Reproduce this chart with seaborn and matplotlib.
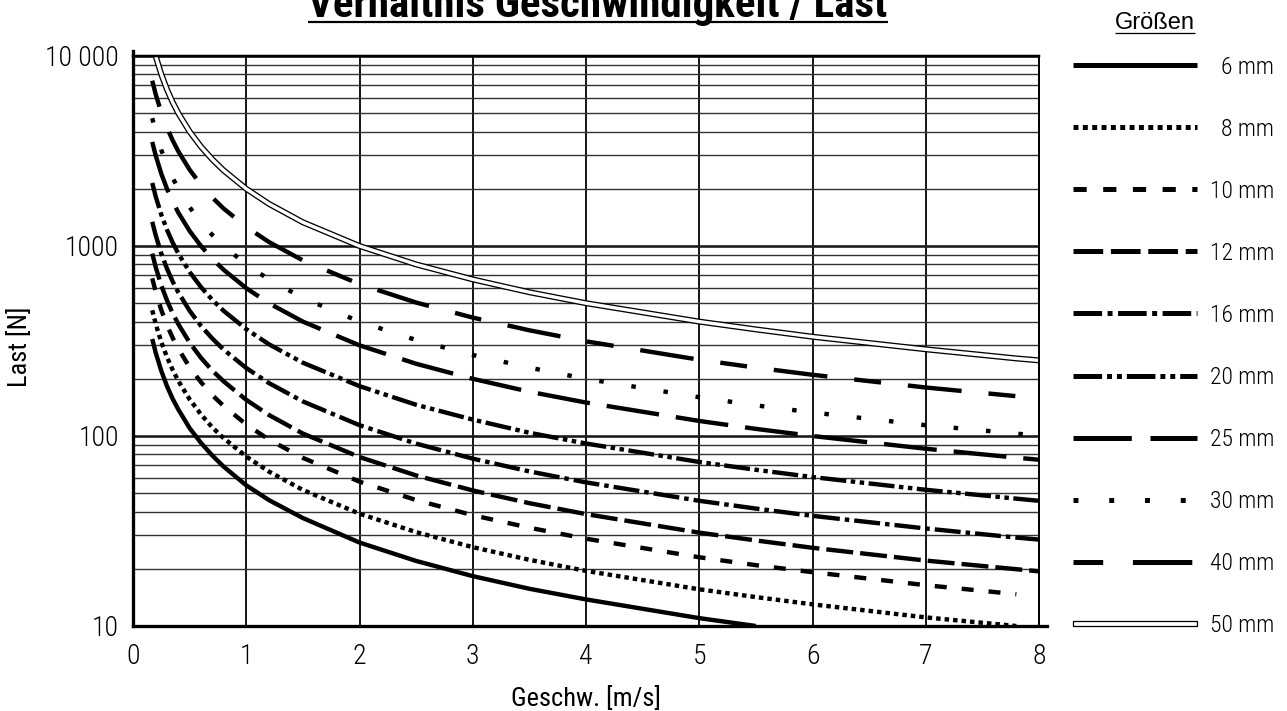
import pandas as pd
import seaborn as sns
import matplotlib
matplotlib.use('Agg')
import matplotlib.pyplot as plt
from matplotlib import font_manager
from matplotlib.patches import Rectangle
from matplotlib.ticker import LogLocator, NullFormatter

speed = [0.17, 0.2, 0.25, 0.3, 0.35, 0.4, 0.5, 0.6, 0.7, 0.8, 1.0, 1.2, 1.5,
         2.0, 2.5, 3.0, 3.5, 4.0, 5.0, 5.5, 6.0, 7.0, 7.8, 8.0]

sizes = ['6 mm', '8 mm', '10 mm', '12 mm', '16 mm', '20 mm', '25 mm', '30 mm', '40 mm', '50 mm']

# load [N] for each size along speed (None = curve not drawn there)
load_6mm = [324, 275, 220, 183, 157, 138, 110, 92, 79, 69, 55, 46, 37, 27.5, 22, 18.3, 15.7, 13.8, 11, 10,
            None, None, None, None]
load_8mm = [459, 390, 312, 260, 223, 195, 156, 130, 111, 97.5, 78, 65, 52, 39, 31.2, 26, 22.3, 19.5, 15.6, 14.2,
            13, 11.1, 10, None]
load_10mm = [676, 575, 460, 383, 329, 288, 230, 192, 164, 144, 115, 95.8, 76.7, 57.5, 46, 38.3, 32.9, 28.8, 23, 20.9,
             19.2, 16.4, 14.7, None]
load_12mm = [912, 775, 620, 517, 443, 388, 310, 258, 221, 194, 155, 129, 103, 77.5, 62, 51.7, 44.3, 38.8, 31, 28.2,
             25.8, 22.1, 19.9, 19.4]
load_16mm = [1341, 1140, 912, 760, 651, 570, 456, 380, 326, 285, 228, 190, 152, 114, 91.2, 76, 65.1, 57, 45.6, 41.5,
             38, 32.6, 29.2, 28.5]
load_20mm = [2147, 1825, 1460, 1217, 1043, 913, 730, 608, 521, 456, 365, 304, 243, 183, 146, 122, 104, 91.3, 73, 66.4,
             60.8, 52.1, 46.8, 45.6]
load_25mm = [3529, 3000, 2400, 2000, 1714, 1500, 1200, 1000, 857, 750, 600, 500, 400, 300, 240, 200, 171, 150, 120, 109,
             100, 85.7, 76.9, 75]
load_30mm = [4706, 4000, 3200, 2667, 2286, 2000, 1600, 1333, 1143, 1000, 800, 667, 533, 400, 320, 267, 229, 200, 160, 145,
             133, 114, 103, 100]
load_40mm = [7412, 6300, 5040, 4200, 3600, 3150, 2520, 2100, 1800, 1575, 1260, 1050, 840, 630, 504, 420, 360, 315, 252, 229,
             210, 180, 162, 158]
load_50mm = [None, 10000, 8000, 6667, 5714, 5000, 4000, 3333, 2857, 2500, 2000, 1667, 1333, 1000, 800, 667, 571, 500, 400, 364,
             333, 286, 256, 250]

y_ticks = [10, 100, 1000, 10000]
y_ticklabels = ['10', '100', '1000', '10 000']
x_ticks = [0, 1, 2, 3, 4, 5, 6, 7, 8]

loads = [load_6mm, load_8mm, load_10mm, load_12mm, load_16mm,
         load_20mm, load_25mm, load_30mm, load_40mm, load_50mm]

rows = []
for size, vals in zip(sizes, loads):
    for v, l in zip(speed, vals):
        if l is not None:
            rows.append({'Geschw': v, 'Last': l, 'Groesse': size})
df = pd.DataFrame(rows)

P = 0.72  # px -> pt at dpi 100

# dash patterns in px (None = solid)
dash_px = {
    '6 mm': None,
    '8 mm': (4.5, 4.0),
    '10 mm': (12, 15),
    '12 mm': (27, 7),
    '16 mm': (26, 5, 4.5, 5),
    '20 mm': (26, 4.5, 4.5, 4.5, 4.5, 4.5),
    '25 mm': (53, 17),
    '30 mm': (4.5, 28),
    '40 mm': (27, 27, 54, 27),
    '50 mm': None,
}

sns.set_style('white', {'axes.edgecolor': 'black', 'text.color': 'black',
                        'xtick.color': 'black', 'ytick.color': 'black',
                        'axes.labelcolor': 'black'})
installed = {f.name for f in font_manager.fontManager.ttflist}
narrow = next((n for n in ['Roboto Condensed', 'Liberation Sans Narrow', 'Open Sans Condensed']
               if n in installed), 'DejaVu Sans')
plt.rcParams['font.family'] = [narrow, 'DejaVu Sans']
plt.rcParams['font.stretch'] = 'condensed'
plt.rcParams['font.weight'] = 'light'
plt.rcParams['lines.scale_dashes'] = False

fig = plt.figure(figsize=(12.87, 7.11), dpi=100)
ax = fig.add_axes([133 / 1287, 85 / 711, 906 / 1287, 570 / 711])
ax.set_yscale('log')

for size in sizes:
    sub = df[df['Groesse'] == size]
    if size == '50 mm':
        # double line: thick black with white core
        sns.lineplot(data=sub, x='Geschw', y='Last', color='black', lw=6 * P,
                     estimator=None, errorbar=None, ax=ax, solid_capstyle='butt')
        sns.lineplot(data=sub, x='Geschw', y='Last', color='white', lw=3.4 * P,
                     estimator=None, errorbar=None, ax=ax, solid_capstyle='butt')
    elif dash_px[size] is None:
        sns.lineplot(data=sub, x='Geschw', y='Last', color='black', lw=4.4 * P,
                     estimator=None, errorbar=None, ax=ax, solid_capstyle='butt')
    else:
        ls = (0, tuple(d * P for d in dash_px[size]))
        sns.lineplot(data=sub, x='Geschw', y='Last', color='black', lw=4.4 * P,
                     linestyle=ls, estimator=None, errorbar=None, ax=ax,
                     dash_capstyle='butt')

ax.set_xlim(0, 8)
ax.set_ylim(10, 10000)
ax.set_xticks(x_ticks)
ax.set_yticks(y_ticks)
ax.set_yticklabels(y_ticklabels)
ax.yaxis.set_minor_locator(LogLocator(base=10, subs=range(2, 10), numticks=20))
ax.yaxis.set_minor_formatter(NullFormatter())
ax.tick_params(which='both', length=0)
ax.tick_params(axis='x', pad=12, labelsize=20)
ax.tick_params(axis='y', pad=10, labelsize=20)

ax.grid(True, which='major', axis='x', color='#1a1a1a', lw=2 * P)
ax.grid(True, which='major', axis='y', color='#1a1a1a', lw=2.6 * P)
ax.grid(True, which='minor', axis='y', color='#333333', lw=1.4 * P)
ax.set_axisbelow(True)

for side, w in [('left', 3.3), ('bottom', 3.3), ('top', 2.5), ('right', 2)]:
    ax.spines[side].set_visible(True)
    ax.spines[side].set_linewidth(w * P)
    ax.spines[side].set_color('black')
ax.spines['left'].set_bounds(10, 10000 * 10 ** (5 / 190))
ax.spines['bottom'].set_bounds(0, 8 + 8 / 113.25)

ax.set_xlabel('Geschw. [m/s]', fontsize=19)
ax.set_ylabel('Last [N]', fontsize=19)
ax.xaxis.set_label_coords(0.5, -0.105)
ax.yaxis.set_label_coords(-0.112, 0.49)

# overlay in pixel coordinates for title and legend
lax = fig.add_axes([0, 0, 1, 1])
lax.set_xlim(0, 1287)
lax.set_ylim(711, 0)
lax.axis('off')

title = lax.text(598, 17, 'Verhältnis Geschwindigkeit / Last', ha='center', va='baseline',
                 fontsize=31, fontweight='bold')
head = lax.text(1155, 29, 'Größen', ha='center', va='baseline', fontsize=17,
                family=['Liberation Sans', 'DejaVu Sans'], fontstretch='normal',
                fontweight='normal')

for i, size in enumerate(sizes):
    y = 65 + 62.1 * i
    if size == '50 mm':
        lax.add_patch(Rectangle((1073, y - 2.5), 124, 5, fc='white', ec='black', lw=1.3 * P))
    elif dash_px[size] is None:
        lax.plot([1073, 1197], [y, y], color='black', lw=5 * P, solid_capstyle='butt')
    else:
        ls = (0, tuple(d * P * 1.1 for d in dash_px[size]))
        lax.plot([1073, 1197], [y, y], color='black', lw=5 * P, linestyle=ls,
                 dash_capstyle='butt')
    lax.text(1274, y + 8.5, size, ha='right', va='baseline', fontsize=17)

# underline title and legend heading
fig.canvas.draw()
renderer = fig.canvas.get_renderer()
for t, yy, w in [(title, 22, 2.2), (head, 33, 1.3)]:
    bb = t.get_window_extent(renderer)
    lax.plot([bb.x0, bb.x1], [yy, yy], color='black', lw=w * P, solid_capstyle='butt')

fig.savefig('out.png', dpi=100)
